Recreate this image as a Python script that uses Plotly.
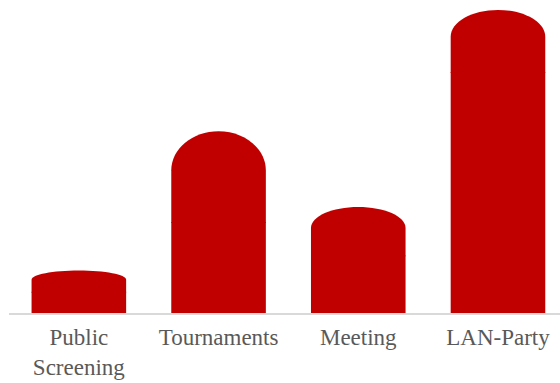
import plotly.graph_objects as go

# Event types and their values (stacked: base block + rounded cap)
categories = ["Public<br>Screening", "Tournaments", "Meeting", "LAN-Party"]
totals = [14, 60, 35, 100]
base_values = [7, 30, 19, 79.5]
cap_values = [t - b for t, b in zip(totals, base_values)]

BAR_COLOR = "#C00000"
BAR_WIDTH = 0.677
CURVE_SHARE = 0.43  # share of cap height that is curved
K = 0.5523          # cubic Bezier constant for elliptical quarters
OVERLAP = 0.3       # cap reaches slightly into the base block to hide the joint

x_pos = list(range(len(categories)))

fig = go.Figure()
fig.add_trace(go.Bar(
    x=x_pos, y=base_values, width=BAR_WIDTH,
    marker=dict(color=BAR_COLOR, line=dict(width=0)),
    hoverinfo="skip", showlegend=False,
))

# Rounded caps sitting on top of each base block
shapes = []
hw = BAR_WIDTH / 2
for xi, b, c in zip(x_pos, base_values, cap_values):
    top = b + c
    ry = CURVE_SHARE * c
    yc = top - ry
    x0, x1 = xi - hw, xi + hw
    yb = b - OVERLAP
    path = (
        f"M {x0},{yb} L {x0},{yc} "
        f"C {x0},{yc + K * ry} {xi - K * hw},{top} {xi},{top} "
        f"C {xi + K * hw},{top} {x1},{yc + K * ry} {x1},{yc} "
        f"L {x1},{yb} Z"
    )
    shapes.append(dict(
        type="path", path=path, xref="x", yref="y",
        fillcolor=BAR_COLOR, line=dict(width=0), layer="above",
    ))

fig.update_layout(
    width=560, height=383,
    margin=dict(l=9, r=0, t=10, b=70),
    paper_bgcolor="white", plot_bgcolor="white",
    shapes=shapes,
    showlegend=False,
    font=dict(family="Liberation Serif, Times New Roman, serif", color="#595959"),
)
fig.update_xaxes(
    range=[-0.5, 3.444],
    tickvals=x_pos, ticktext=categories,
    tickfont=dict(size=23, color="#595959"),
    ticklabelstandoff=2,
    showgrid=False, zeroline=False,
    showline=True, linecolor="#d9d9d9", linewidth=2,
    ticks="", automargin=False,
)
fig.update_yaxes(
    range=[0, 100], visible=False, showgrid=False, zeroline=False,
)

fig.write_html("out.html")
